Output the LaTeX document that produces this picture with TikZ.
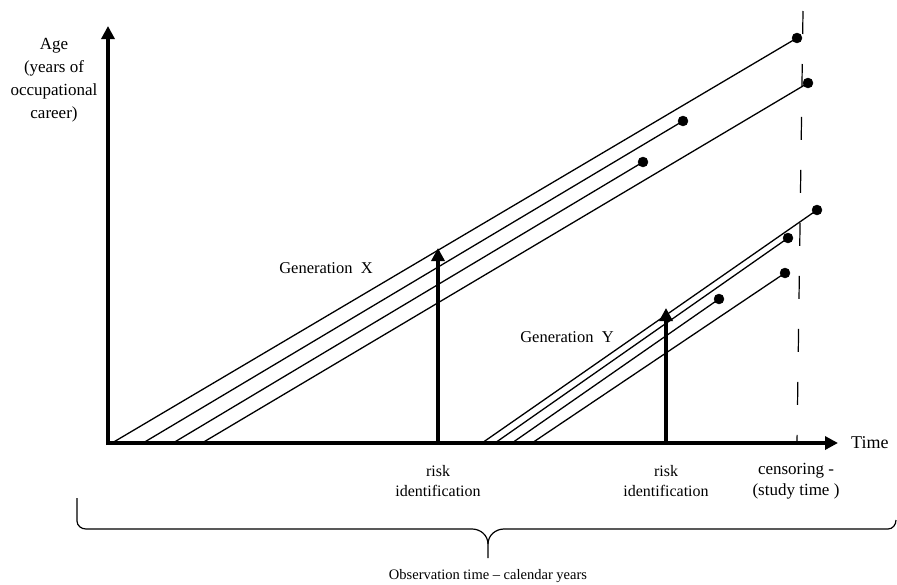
\documentclass[tikz,border=0pt]{standalone}
\usepackage{fontspec}
\setmainfont{Liberation Serif}
\usetikzlibrary{arrows.meta}

\begin{document}
\begin{tikzpicture}[%
x=1pt, y=-1pt,
axis/.style={line width=4pt, -{Triangle[width=13pt,length=13pt]}},
career/.style={line width=1.3pt},
dot/.style={fill=black},
lbl/.style={font=\fontsize{16}{20.5}\selectfont, align=center, inner sep=0pt},
]
\useasboundingbox (0,0) rectangle (897,584);
%% axes;
\coordinate (O) at (108,443);
\coordinate (ytop) at (108,26);
\coordinate (xend) at (838,443);
\draw [axis] (108,445) -- (ytop);
\draw [axis] (106,443) -- (xend);
\node [lbl, font=\fontsize{18}{22}\selectfont, anchor=west] (time) at (851,443) {Time};
\node [lbl, font=\fontsize{17}{23}\selectfont] (age) at (54,80) {Age\\(years of\\occupational\\career)};
%% censoring line;
\coordinate (ctop) at (803,11);
\coordinate (cbot) at (797,443);
\draw [line width=1.2pt, dash pattern=on 23pt off 30pt] (ctop) -- (cbot);
%% generation X;
\coordinate (xa0) at (112,443); \coordinate (xa1) at (797,38);
\coordinate (xb0) at (143,443); \coordinate (xb1) at (683,121);
\coordinate (xc0) at (173,443); \coordinate (xc1) at (643,162);
\coordinate (xd0) at (202,443); \coordinate (xd1) at (808,83);
\draw [career] (xa0) -- (xa1);
\draw [career] (xb0) -- (xb1);
\draw [career] (xc0) -- (xc1);
\draw [career] (xd0) -- (xd1);
%% generation Y;
\coordinate (ya0) at (482,443); \coordinate (ya1) at (817,210);
\coordinate (yb0) at (495,443); \coordinate (yb1) at (788,238);
\coordinate (yc0) at (512,443); \coordinate (yc1) at (719,299);
\coordinate (yd0) at (532,443); \coordinate (yd1) at (785,273);
\draw [career] (ya0) -- (ya1);
\draw [career] (yb0) -- (yb1);
\draw [career] (yc0) -- (yc1);
\draw [career] (yd0) -- (yd1);
%% end points;
\filldraw [dot] (xa1) circle (5);
\filldraw [dot] (xb1) circle (5);
\filldraw [dot] (xc1) circle (5);
\filldraw [dot] (xd1) circle (5);
\filldraw [dot] (ya1) circle (5);
\filldraw [dot] (yb1) circle (5);
\filldraw [dot] (yc1) circle (5);
\filldraw [dot] (yd1) circle (5);
%% risk identification;
\coordinate (rx0) at (438,443); \coordinate (rx1) at (438,248);
\coordinate (ry0) at (666,443); \coordinate (ry1) at (666,308);
\draw [axis] (rx0) -- (rx1);
\draw [axis] (ry0) -- (ry1);
\node [lbl, font=\fontsize{16.5}{20.5}\selectfont] (genx) at (326,268) {Generation~ X};
\node [lbl, font=\fontsize{16.5}{20.5}\selectfont] (geny) at (567,337) {Generation~ Y};
\node [lbl] (riskx) at (438,481) {risk\\identification};
\node [lbl] (risky) at (666,481) {risk\\identification};
\node [lbl, font=\fontsize{17}{21}\selectfont] (cens) at (796,481) {censoring -\\(study time )};
%% brace;
\draw [line width=1.2pt] (77,498) -- (77,521) to[out=-90,in=180] (86,529) -- (472,529)
  to[out=0,in=90] (488,544) -- (488,558);
\draw [line width=1.2pt] (488,544) to[out=90,in=180] (504,529) -- (888,529)
  to[out=0,in=-90] (896,520);
\node [lbl, font=\fontsize{14.5}{18}\selectfont] (obs) at (488,576) {Observation time -- calendar years};
\end{tikzpicture}
\end{document}
